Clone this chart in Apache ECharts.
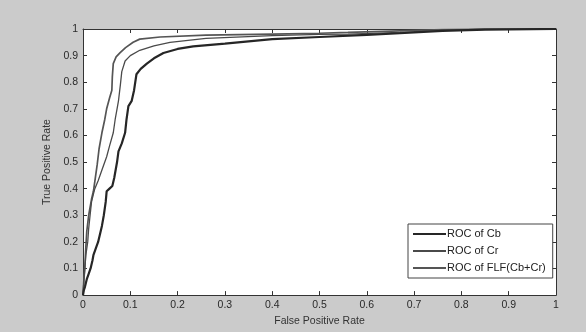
<!DOCTYPE html>
<html>
<head>
<meta charset="utf-8">
<title>ROC</title>
<script src="https://cdn.jsdelivr.net/npm/echarts@6/dist/echarts.min.js"></script>
<style>
  html, body { margin: 0; padding: 0; background: #cbcbcb; }
  #roc-chart { width: 586px; height: 332px; }
</style>
</head>
<body>
<div id="roc-chart"></div>
<script>
// series names (legend order)
var seriesNames = ['ROC of Cb', 'ROC of Cr', 'ROC of FLF(Cb+Cr)'];

// [false positive rate, true positive rate]
var rocCb = [[0,0],[0.002,0.02],[0.004,0.03],[0.008,0.06],[0.012,0.08],[0.016,0.1],[0.02,0.13],[0.022,0.15],
  [0.028,0.18],[0.032,0.2],[0.036,0.23],[0.04,0.26],[0.044,0.3],[0.048,0.35],[0.05,0.39],[0.056,0.4],
  [0.062,0.41],[0.066,0.44],[0.072,0.5],[0.075,0.54],[0.082,0.57],[0.089,0.61],[0.092,0.66],[0.096,0.71],
  [0.103,0.73],[0.108,0.77],[0.113,0.83],[0.122,0.85],[0.135,0.87],[0.15,0.89],[0.17,0.91],[0.2,0.925],
  [0.233,0.935],[0.3,0.945],[0.4,0.962],[0.5,0.97],[0.6,0.978],[0.67,0.984],[0.76,0.993],[0.85,0.998],[1,1]];
var rocCr = [[0,0],[0.002,0.06],[0.004,0.1],[0.006,0.15],[0.01,0.2],[0.012,0.25],[0.015,0.3],[0.018,0.35],
  [0.022,0.38],[0.025,0.4],[0.032,0.43],[0.04,0.47],[0.05,0.52],[0.056,0.56],[0.064,0.61],[0.068,0.66],
  [0.072,0.7],[0.075,0.73],[0.079,0.79],[0.082,0.84],[0.089,0.88],[0.1,0.9],[0.12,0.92],[0.15,0.937],
  [0.184,0.95],[0.26,0.965],[0.4,0.975],[0.5,0.98],[0.56,0.981],[0.67,0.987],[0.76,0.995],[0.85,0.999],[1,1]];
var rocFlf = [[0,0],[0.002,0.06],[0.004,0.11],[0.006,0.18],[0.008,0.24],[0.012,0.3],[0.018,0.36],[0.022,0.39],
  [0.026,0.44],[0.03,0.49],[0.034,0.55],[0.04,0.61],[0.046,0.66],[0.05,0.7],[0.056,0.74],[0.061,0.77],
  [0.062,0.82],[0.064,0.87],[0.07,0.895],[0.078,0.91],[0.09,0.93],[0.106,0.95],[0.12,0.962],[0.163,0.97],
  [0.26,0.977],[0.4,0.981],[0.5,0.984],[0.56,0.987],[0.67,0.993],[0.76,0.998],[0.85,1],[1,1]];

var lineColors = ['#262626', '#4a4a4a', '#555555'];
var lineWidths = [2.2, 1.3, 1.7];

var font = '"Liberation Sans", Arial, sans-serif';
var myChart = echarts.init(document.getElementById('roc-chart'));

// matlab style box: ticks inside on all four sides
function boxAxis(pos, showLabel, name, gap) {
  return {
    type: 'value', position: pos, min: 0, max: 1, interval: 0.1,
    name: name, nameLocation: 'middle', nameGap: gap,
    nameRotate: (pos === 'left') ? 90 : 0,
    nameTextStyle: { color: '#333', fontSize: 10.5, fontFamily: font },
    axisLine: { show: true, onZero: false, lineStyle: { color: '#333', width: 1 } },
    axisTick: { show: true, inside: true, length: 4, lineStyle: { color: '#333' } },
    axisLabel: { show: showLabel, color: '#2a2a2a', fontSize: 10.5, fontFamily: font, margin: 5 },
    splitLine: { show: false }
  };
}

var datasets = [rocCb, rocCr, rocFlf];
var series = [];
for (var i = 0; i < datasets.length; i++) {
  series.push({
    name: seriesNames[i], type: 'line', data: datasets[i],
    showSymbol: false, symbol: 'none', silent: true, z: 3 - i,
    lineStyle: { color: lineColors[i], width: lineWidths[i] },
    itemStyle: { color: lineColors[i] }
  });
}

var option = {
  backgroundColor: '#cbcbcb',
  animation: false,
  grid: { left: 83, right: 30, top: 29, bottom: 35, show: true, backgroundColor: '#fff', borderWidth: 0 },
  legend: {
    data: seriesNames, orient: 'vertical', left: 408, top: 224,
    backgroundColor: '#fff', borderColor: '#444', borderWidth: 1,
    padding: [4, 7, 4, 5], itemGap: 5, itemWidth: 33, itemHeight: 2, icon: 'rect',
    textStyle: { color: '#222', fontSize: 11, fontFamily: font, lineHeight: 12, padding: [0, 0, 0, -4] }
  },
  xAxis: [boxAxis('bottom', true, 'False Positive Rate', 19), boxAxis('top', false, '', 0)],
  yAxis: [boxAxis('left', true, 'True Positive Rate', 30), boxAxis('right', false, '', 0)],
  series: series
};
myChart.setOption(option);
</script>
</body>
</html>
